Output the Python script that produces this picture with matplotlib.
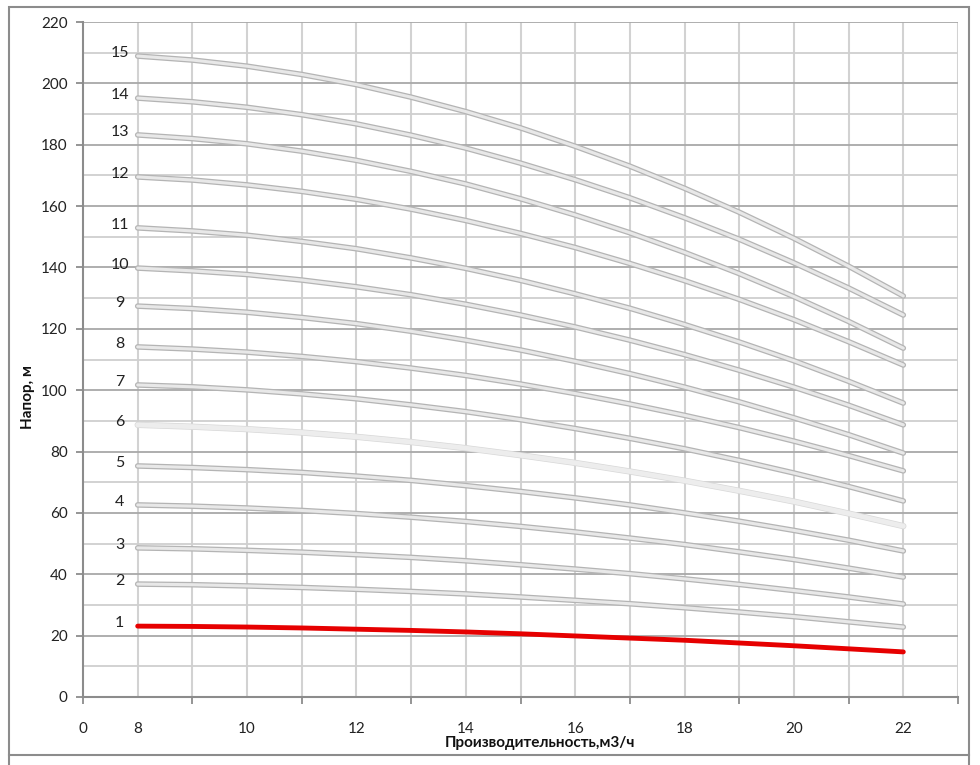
import numpy as np
import matplotlib
matplotlib.use('Agg')
import matplotlib.pyplot as plt
import matplotlib.patheffects as pe
from matplotlib.patches import Rectangle
from matplotlib.lines import Line2D

plt.rcParams['font.family'] = ['Lato', 'DejaVu Sans']

# flow, m3/h
flow = list(range(8, 23))

# head, m, one curve per number of stages
head = {
    1: [23.1, 23.0, 22.8, 22.5, 22.1, 21.7, 21.2, 20.6, 19.9, 19.2, 18.5, 17.6, 16.7, 15.7, 14.7],
    2: [36.8, 36.6, 36.2, 35.7, 35.1, 34.4, 33.6, 32.6, 31.5, 30.4, 29.1, 27.7, 26.2, 24.5, 22.8],
    3: [48.6, 48.3, 47.8, 47.2, 46.4, 45.5, 44.4, 43.1, 41.7, 40.2, 38.5, 36.7, 34.7, 32.6, 30.3],
    4: [62.6, 62.2, 61.6, 60.8, 59.8, 58.6, 57.2, 55.6, 53.8, 51.8, 49.7, 47.3, 44.8, 42.0, 39.1],
    5: [75.3, 74.8, 74.1, 73.2, 72.0, 70.6, 68.9, 67.0, 64.9, 62.6, 60.0, 57.3, 54.3, 51.1, 47.6],
    6: [88.7, 88.1, 87.3, 86.2, 84.8, 83.1, 81.1, 78.8, 76.3, 73.5, 70.5, 67.2, 63.7, 59.8, 55.7],
    7: [101.7, 101.1, 100.1, 98.8, 97.2, 95.2, 93.0, 90.4, 87.5, 84.3, 80.9, 77.1, 73.0, 68.6, 63.9],
    8: [114.1, 113.4, 112.4, 111.0, 109.3, 107.2, 104.8, 102.0, 98.9, 95.5, 91.8, 87.8, 83.4, 78.7, 73.7],
    9: [127.4, 126.6, 125.4, 123.7, 121.7, 119.2, 116.3, 113.1, 109.4, 105.4, 101.0, 96.2, 91.0, 85.5, 79.5],
    10: [139.8, 138.9, 137.7, 135.9, 133.7, 131.1, 128.0, 124.5, 120.6, 116.3, 111.6, 106.5, 101.0, 95.1, 88.7],
    11: [152.9, 151.9, 150.5, 148.5, 146.1, 143.1, 139.7, 135.8, 131.4, 126.7, 121.4, 115.7, 109.6, 102.9, 95.8],
    12: [169.5, 168.5, 166.9, 164.8, 162.2, 159.0, 155.3, 151.1, 146.5, 141.3, 135.7, 129.6, 123.0, 115.8, 108.2],
    13: [183.2, 182.0, 180.3, 177.9, 174.9, 171.3, 167.2, 162.4, 157.1, 151.3, 144.9, 138.0, 130.5, 122.4, 113.7],
    14: [195.2, 194.0, 192.2, 189.8, 186.8, 183.1, 178.9, 174.0, 168.6, 162.7, 156.2, 149.2, 141.5, 133.3, 124.5],
    15: [208.9, 207.6, 205.6, 202.9, 199.6, 195.5, 190.8, 185.5, 179.5, 173.0, 165.8, 158.0, 149.5, 140.4, 130.7],
}

# category axis like in the spreadsheet: 0, then 8, 9, ... 23
x_cats = [0] + list(range(8, 24))
x_labels = ['0', '8', '10', '12', '14', '16', '18', '20', '22']


def pos(q):
    return x_cats.index(q)


fig = plt.figure(figsize=(9.8, 7.65), dpi=100)
ax = fig.add_axes([83 / 980, 68 / 765, 875 / 980, 675 / 765])

# outer frame of the chart
fig.patches.append(Rectangle((9 / 980, 10 / 765), 960 / 980, 748 / 765,
                             transform=fig.transFigure, fill=False,
                             edgecolor='#8c8c8c', linewidth=1.5))
fig.lines.append(Line2D([9 / 980, 9 / 980], [0, 10 / 765], transform=fig.transFigure,
                        color='#8c8c8c', linewidth=1.5))
fig.lines.append(Line2D([969 / 980, 969 / 980], [0, 10 / 765], transform=fig.transFigure,
                        color='#8c8c8c', linewidth=1.5))

ax.set_xlim(0, len(x_cats) - 1)
ax.set_ylim(0, 220)

# grid
for i in range(1, len(x_cats)):
    ax.axvline(i, color='#d2d2d2', linewidth=1.5, zorder=0)
for yv in range(10, 230, 10):
    c = '#a8a8a8' if yv % 20 == 0 else '#cfcfcf'
    ax.axhline(yv, color=c, linewidth=1.3, zorder=0)

# curves
xs = [pos(q) for q in flow]
for n, h in head.items():
    if n == 1:
        ax.plot(xs, h, color='#e60000', linewidth=3.5, solid_capstyle='round', zorder=3)
    elif n == 6:
        ax.plot(xs, h, color='#ededed', linewidth=3.5, solid_capstyle='round', zorder=2,
                path_effects=[pe.Stroke(linewidth=4.5, foreground='#d8d8d8'), pe.Normal()])
    else:
        ax.plot(xs, h, color='#e8e8e8', linewidth=2.2, solid_capstyle='round', zorder=2,
                path_effects=[pe.Stroke(linewidth=4.0, foreground='#b4b4b4'), pe.Normal()])
    ax.text(0.67, h[0] + 1, str(n), ha='center', va='center', fontsize=11.5, color='#222222')

# axes look
for s in ['top', 'right']:
    ax.spines[s].set_visible(False)
for s in ['left', 'bottom']:
    ax.spines[s].set_color('#8c8c8c')
    ax.spines[s].set_linewidth(1.5)

ax.set_yticks(range(0, 221, 20))
ax.tick_params(axis='y', direction='out', length=5, color='#8c8c8c', width=1.3,
               labelsize=11, labelcolor='#222222', pad=6)

ax.set_xticks(range(0, len(x_cats), 2))
ax.set_xticklabels([])
ax.tick_params(axis='x', direction='out', length=5, color='#8c8c8c', width=1.3)
label_pos = [0] + [pos(q) for q in range(8, 23, 2)]
for p, lab in zip(label_pos, x_labels):
    ax.text(p, -10.5, lab, ha='center', va='center', fontsize=11, color='#222222')

fig.text(540 / 980, 1 - 743 / 765, 'Производительность,м3/ч', ha='center', va='center',
         fontsize=11, fontweight='bold', color='#111111')
fig.text(28 / 980, 1 - 397 / 765, 'Напор, м', ha='center', va='center', rotation=90,
         fontsize=11, fontweight='bold', color='#111111')

fig.savefig('out.png', dpi=100)
